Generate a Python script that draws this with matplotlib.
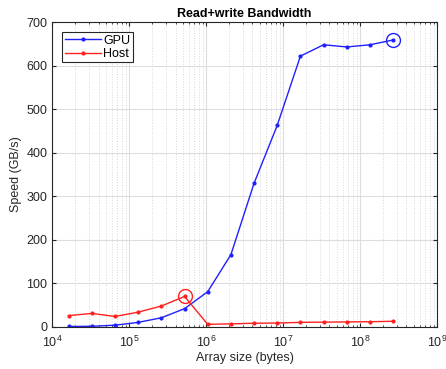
import numpy as np
import matplotlib
matplotlib.use("Agg")
import matplotlib.pyplot as plt
from matplotlib.ticker import LogLocator, NullFormatter

plt.rcParams['font.family'] = ['Liberation Sans', 'DejaVu Sans']

# array sizes: 2^14 .. 2^28 bytes
exponents = list(range(14, 29))
sizes = [2 ** e for e in exponents]

gpu_bw = [1, 1.5, 4, 10.5, 21, 42, 81, 166, 330, 463, 622, 648, 643, 648, 659]
host_bw = [26, 31, 24, 34, 48, 70, 6, 7, 8.5, 9, 10.5, 11, 11.5, 12, 13]

fig = plt.figure(figsize=(4.46, 3.69), dpi=100)
ax = fig.add_axes([0.117, 0.114, 0.863, 0.826])

ax.plot(sizes, gpu_bw, color='#2020ff', marker='.', markersize=4, linewidth=1, label='GPU')
ax.plot(sizes, host_bw, color='#ff2020', marker='.', markersize=4, linewidth=1, label='Host')

# circle the best point of each series
i_gpu = int(np.argmax(gpu_bw))
i_host = int(np.argmax(host_bw))
ax.plot(sizes[i_gpu], gpu_bw[i_gpu], 'o', mfc='none', mec='#2020ff', markersize=10, mew=1)
ax.plot(sizes[i_host], host_bw[i_host], 'o', mfc='none', mec='#ff2020', markersize=10, mew=1)

ax.set_xscale('log')
ax.set_xlim(1e4, 1e9)
ax.set_ylim(0, 700)
ax.set_yticks(range(0, 701, 100))
ax.xaxis.set_major_locator(LogLocator(base=10, numticks=10))
ax.xaxis.set_minor_locator(LogLocator(base=10, subs=np.arange(2, 10), numticks=20))
ax.xaxis.set_minor_formatter(NullFormatter())

ax.grid(True, which='major', color='#dddddd', linewidth=0.8)
ax.grid(True, which='minor', axis='x', color='#d8d8d8', linestyle=':', linewidth=0.7)
ax.set_axisbelow(True)

ax.tick_params(which='both', direction='in', top=True, right=True, labelsize=9, colors='#262626')
ax.tick_params(which='major', length=3)
ax.tick_params(which='minor', length=1.5)
ax.tick_params(axis='x', which='major', pad=6)
for s in ax.spines.values():
    s.set_color('#262626')
    s.set_linewidth(0.8)

ax.set_title('Read+write Bandwidth', fontsize=9, fontweight='bold', pad=4)
ax.set_xlabel('Array size (bytes)', fontsize=9, color='#262626', labelpad=1)
ax.set_ylabel('Speed (GB/s)', fontsize=9, color='#262626', labelpad=3)

leg = ax.legend(loc='upper left', fontsize=9, fancybox=False, framealpha=1,
                edgecolor='#262626', borderpad=0.2, handlelength=2.9,
                handletextpad=0.2, labelspacing=0.1, borderaxespad=0.8)
leg.get_frame().set_linewidth(0.8)

fig.savefig('out.png', dpi=100)
